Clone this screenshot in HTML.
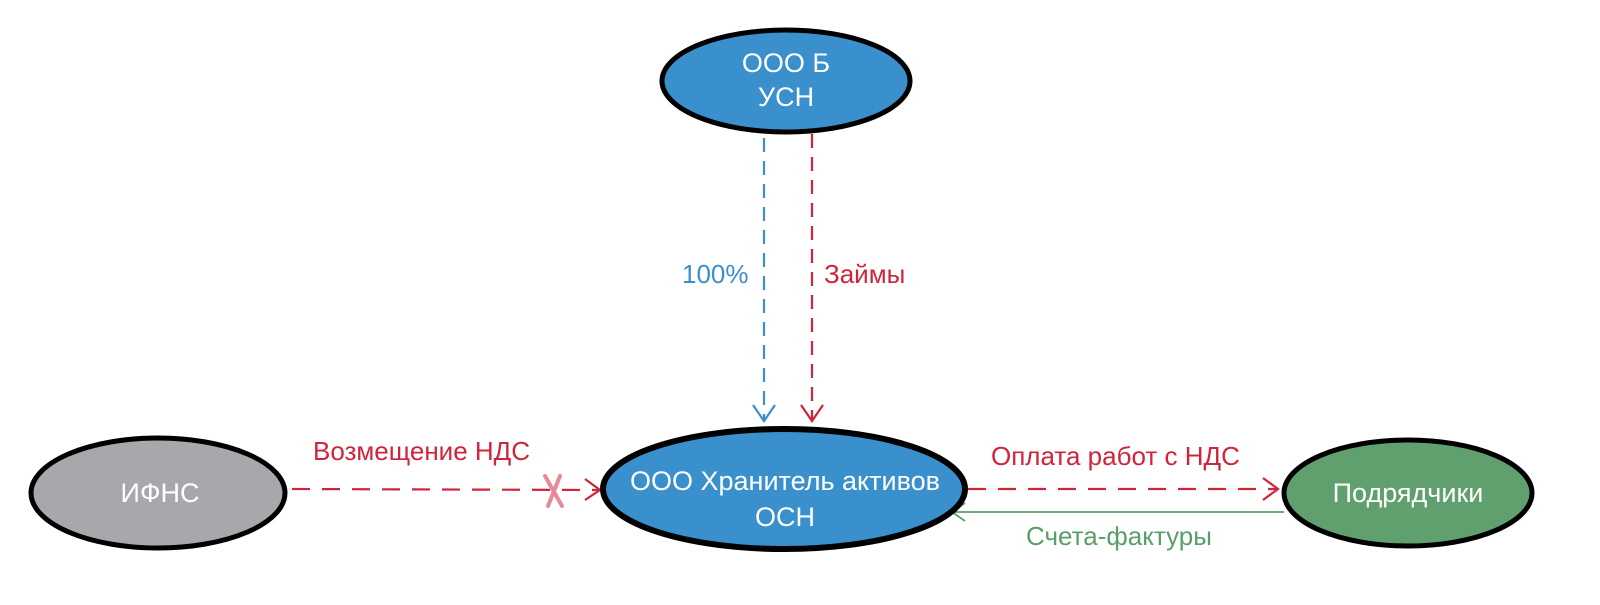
<!DOCTYPE html>
<html><head><meta charset="utf-8"><style>
html,body{margin:0;padding:0;background:#fff;}
svg{display:block;}
text{font-family:"Liberation Sans","DejaVu Sans",sans-serif;}
</style></head><body>
<svg width="1600" height="605" viewBox="0 0 1600 605" xmlns="http://www.w3.org/2000/svg">
<g fill="none" stroke-width="2.2">
  <line x1="764" y1="138" x2="764" y2="420" stroke="#3a8fcd" stroke-dasharray="14,9"/>
  <polyline points="753,405 764,421 775,405" stroke="#3a8fcd"/>
  <line x1="812" y1="134" x2="812" y2="420" stroke="#d0243a" stroke-dasharray="14,9"/>
  <polyline points="801,405 812,421 823,405" stroke="#d0243a"/>
  <line x1="292" y1="489" x2="598" y2="490" stroke="#d0243a" stroke-dasharray="18,12"/>
  <polyline points="585,479 600,490 585,500" stroke="#d0243a"/>
  <line x1="968" y1="489" x2="1276" y2="489" stroke="#d0243a" stroke-dasharray="18,12"/>
  <polyline points="1263,478 1278,489 1263,500" stroke="#d0243a"/>
  <line x1="952" y1="512" x2="1284" y2="512" stroke="#5a9e6a" stroke-width="1.8"/>
  <polyline points="965,503 952,512 965,521" stroke="#5a9e6a" stroke-width="1.8"/>
</g>
<g stroke="#e88a95" stroke-width="4" stroke-linecap="round">
  <line x1="545" y1="476" x2="562" y2="506"/>
  <line x1="560" y1="476" x2="548" y2="506"/>
</g>
<ellipse cx="786" cy="81" rx="124" ry="51" fill="#3a8fcd" stroke="#000" stroke-width="5"/>
<ellipse cx="784" cy="489" rx="181" ry="60" fill="#3a8fcd" stroke="#000" stroke-width="6"/>
<ellipse cx="158" cy="493" rx="127" ry="55" fill="#a7a8ab" stroke="#000" stroke-width="5"/>
<ellipse cx="1408" cy="493" rx="124" ry="53" fill="#5fa06e" stroke="#000" stroke-width="5"/>
<g fill="#fff" font-size="27" text-anchor="middle">
  <text x="786" y="72">ООО Б</text>
  <text x="786" y="106">УСН</text>
  <text x="785" y="490">ООО Хранитель активов</text>
  <text x="785" y="526">ОСН</text>
  <text x="160" y="502">ИФНС</text>
  <text x="1408" y="502">Подрядчики</text>
</g>
<g font-size="26">
  <text x="682" y="283" fill="#3a8fcd">100%</text>
  <text x="824" y="283" fill="#d0243a">Займы</text>
  <text x="313" y="460" fill="#d0243a">Возмещение НДС</text>
  <text x="991" y="465" fill="#d0243a">Оплата работ с НДС</text>
  <text x="1026" y="545" fill="#5a9e6a">Счета-фактуры</text>
</g>
</svg>
</body></html>
